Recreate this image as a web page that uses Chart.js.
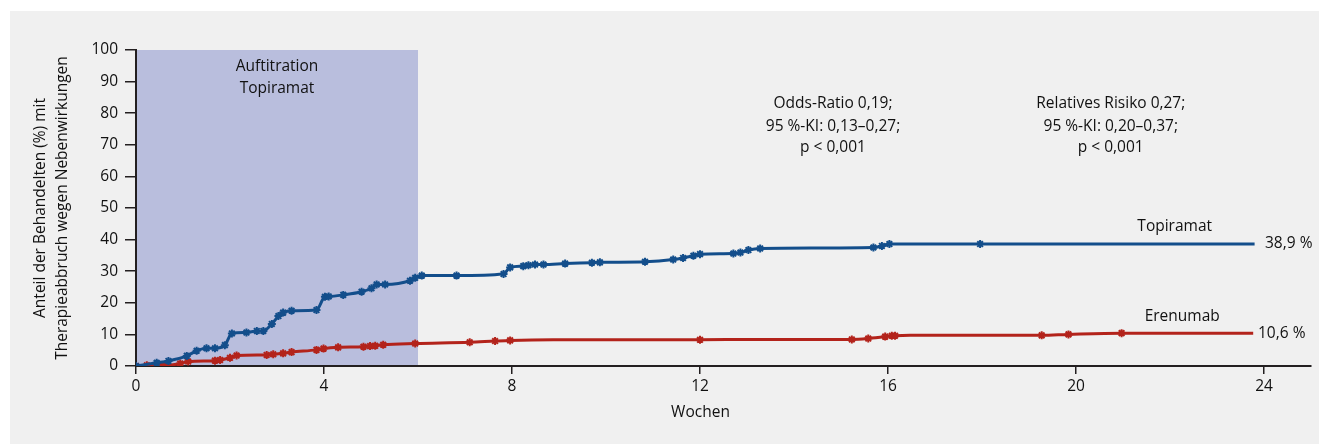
<!DOCTYPE html>
<html>
<head>
<meta charset="utf-8">
<script src="https://cdn.jsdelivr.net/npm/chart.js@4.4.0/dist/chart.umd.min.js"></script>
<style>
  html, body { margin: 0; padding: 0; background: #fff; }
  canvas { display: block; }
</style>
</head>
<body>
<canvas id="myChart" width="1319" height="444"></canvas>
<script>
// Data (weeks / % discontinued)
const xTicks = [0, 4, 8, 12, 16, 20, 24];

const topiramatWeeks = [0, 0.44, 0.69, 1.08, 1.29, 1.5, 1.68, 1.89, 2.04, 2.35, 2.57, 2.71, 2.89, 3.03, 3.13, 3.31, 3.84, 4.02, 4.1, 4.41, 4.8, 5.01, 5.12, 5.3, 5.83, 5.94, 6.08,
  6.82, 7.82, 7.96, 8.24, 8.35, 8.49, 8.67, 9.13, 9.7, 9.87, 10.83, 11.43, 11.64, 11.86, 12.0, 12.71, 12.86, 13.03, 13.28,
  15.69, 15.87, 16.03, 17.96, 23.8];
const topiramatPct = [0, 1.0, 1.6, 3.2, 4.8, 5.6, 5.6, 6.6, 10.3, 10.6, 11.1, 11.1, 13.3, 15.8, 16.9, 17.5, 17.7, 21.9, 22.0, 22.5, 23.5, 24.6, 25.8, 25.8, 27.0, 27.9, 28.6,
  28.6, 29.1, 31.2, 31.6, 31.9, 32.1, 32.1, 32.4, 32.7, 32.8, 33.0, 33.7, 34.2, 34.9, 35.4, 35.6, 35.9, 36.7, 37.2,
  37.5, 38.0, 38.6, 38.6, 38.6];
const topiramatUnmarked = [23.8];

const erenumabWeeks = [0, 0.23, 0.51, 0.62, 0.94, 1.11, 1.68, 1.79, 2.0, 2.14, 2.78, 2.92, 3.13, 3.31, 3.84, 3.99, 4.3, 4.84, 4.98, 5.09, 5.26, 5.94,
  7.1, 7.64, 7.96, 8.88, 12.0, 13.13, 15.23, 15.58, 15.94, 16.08, 16.15, 16.47, 19.27, 19.84, 20.97, 23.77];
const erenumabPct = [0, 0.2, 0.2, 0.2, 0.8, 1.4, 1.7, 1.9, 2.6, 3.3, 3.5, 3.7, 4.0, 4.4, 5.1, 5.5, 5.9, 6.1, 6.3, 6.4, 6.7, 7.1,
  7.5, 7.9, 8.1, 8.3, 8.3, 8.4, 8.4, 8.7, 9.3, 9.6, 9.6, 9.7, 9.7, 10.0, 10.4, 10.4];
const erenumabUnmarked = [8.88, 13.13, 16.47, 23.77];

const BLUE = '#134e8b';
const RED = '#b3231b';
const FONT = '"Open Sans", sans-serif';
const TEXT = '#111111';

function points(xs, ys) {
  return xs.map((x, i) => ({ x: x, y: ys[i] }));
}

// background panel, shaded titration band and all the text
const decor = {
  id: 'decor',
  beforeDraw(chart) {
    const c = chart.ctx;
    c.save();
    c.fillStyle = '#ffffff';
    c.fillRect(0, 0, chart.width, chart.height);
    c.fillStyle = '#f0f0f0';
    c.fillRect(10, 11, chart.width - 10, chart.height - 11);
    const xs = chart.scales.x, ys = chart.scales.y;
    c.fillStyle = '#b9bedd';
    const x0 = xs.getPixelForValue(0), x1 = xs.getPixelForValue(6);
    const y0 = ys.getPixelForValue(100), y1 = ys.getPixelForValue(0);
    c.fillRect(x0, y0, x1 - x0, y1 - y0);
    c.restore();
  },
  afterDraw(chart) {
    const c = chart.ctx;
    const xs = chart.scales.x, ys = chart.scales.y;
    c.save();
    c.fillStyle = TEXT;
    c.font = '15.5px ' + FONT;
    c.textBaseline = 'middle';
    c.textAlign = 'center';
    const t = (s, wx, wy) => c.fillText(s, xs.getPixelForValue(wx), ys.getPixelForValue(wy));

    t('Auftitration', 3, 94.9);
    t('Topiramat', 3, 87.9);

    t('Odds-Ratio 0,19;', 14.83, 82.9);
    t('95 %-KI: 0,13\u20130,27;', 14.83, 75.9);
    t('p < 0,001', 14.83, 69.0);

    t('Relatives Risiko 0,27;', 20.74, 82.9);
    t('95 %-KI: 0,20\u20130,37;', 20.74, 75.9);
    t('p < 0,001', 20.74, 69.0);

    t('Topiramat', 22.1, 44.0);
    t('Erenumab', 22.26, 15.5);

    c.textAlign = 'left';
    c.fillText('38,9 %', 1265, 244);
    c.fillText('10,6 %', 1258, 334);

    // x title
    c.textAlign = 'center';
    c.fillText('Wochen', (xs.left + xs.getPixelForValue(24)) / 2 + 0.5, 413);

    // y title, two rotated lines
    const cy = (ys.top + ys.bottom) / 2;
    c.translate(41, cy);
    c.rotate(-Math.PI / 2);
    c.fillText('Anteil der Behandelten (%) mit', 0, 0);
    c.fillText('Therapieabbruch wegen Nebenwirkungen', 0, 22);
    c.restore();
  }
};

const ctx = document.getElementById('myChart').getContext('2d');
const myChart = new Chart(ctx, {
  type: 'line',
  data: {
    datasets: [
      {
        label: 'Topiramat',
        data: points(topiramatWeeks, topiramatPct),
        borderColor: BLUE,
        backgroundColor: BLUE,
        borderWidth: 3,
        cubicInterpolationMode: 'monotone',
        pointStyle: 'star',
        pointRadius: c => topiramatUnmarked.includes(c.raw && c.raw.x) ? 0 : 4,
        pointBorderWidth: 2,
        pointBorderColor: BLUE
      },
      {
        label: 'Erenumab',
        data: points(erenumabWeeks, erenumabPct),
        borderColor: RED,
        backgroundColor: RED,
        borderWidth: 3,
        cubicInterpolationMode: 'monotone',
        pointStyle: 'star',
        pointRadius: c => erenumabUnmarked.includes(c.raw && c.raw.x) ? 0 : 4,
        pointBorderWidth: 2,
        pointBorderColor: RED
      }
    ]
  },
  options: {
    responsive: false,
    animation: false,
    devicePixelRatio: 1,
    layout: { padding: { top: 50, right: 8, left: 0, bottom: 0 } },
    plugins: {
      legend: { display: false },
      tooltip: { enabled: false }
    },
    scales: {
      x: {
        type: 'linear',
        min: 0,
        max: 25,
        afterBuildTicks: s => { s.ticks = xTicks.map(v => ({ value: v })); },
        afterFit: s => { s.height = 78; },
        border: { color: '#231f20', width: 2 },
        grid: { drawOnChartArea: false, drawTicks: true, tickLength: 8, color: '#231f20', lineWidth: 1.5 },
        ticks: { color: TEXT, font: { family: FONT, size: 15.5 }, padding: 3, maxRotation: 0 }
      },
      y: {
        min: 0,
        max: 100,
        afterFit: s => { s.width = 136; },
        border: { color: '#231f20', width: 2 },
        grid: { drawOnChartArea: false, drawTicks: true, tickLength: 11, color: '#231f20', lineWidth: 1.5 },
        ticks: { stepSize: 10, color: TEXT, font: { family: FONT, size: 15.5 }, padding: 7 }
      }
    }
  },
  plugins: [decor]
});
</script>
</body>
</html>
